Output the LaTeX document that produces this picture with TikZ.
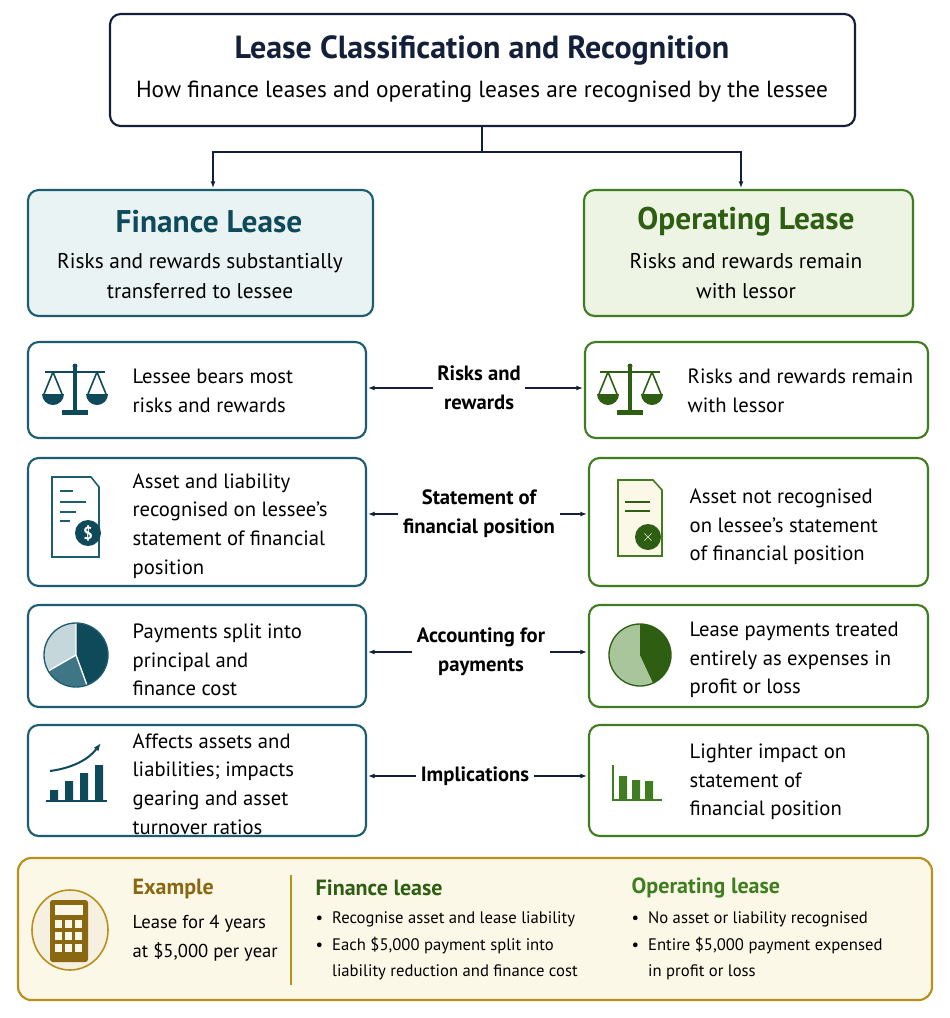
\documentclass[tikz,border=0pt]{standalone}
\usepackage{fontspec}
\setmainfont{PT Sans}
\usepackage{tikz}
\usetikzlibrary{positioning, calc, arrows.meta}
\definecolor{finteal}{HTML}{1C5E70}
\definecolor{darkteal}{HTML}{0F4A5A}
\definecolor{lightteal}{HTML}{EAF3F4}
\definecolor{opgreen}{HTML}{3F7D20}
\definecolor{darkgreen}{HTML}{2E5E12}
\definecolor{lightgreen}{HTML}{EEF4E4}
\definecolor{navy}{HTML}{14203A}
\definecolor{gold}{HTML}{B8901E}
\definecolor{darkgold}{HTML}{8A6812}
\definecolor{lightgold}{HTML}{FCF8E8}
\tikzset{
  box/.style={draw, line width=1.6pt, rounded corners=8pt, fill=white},
  fbox/.style={box, draw=finteal},
  obox/.style={box, draw=opgreen},
  body/.style={anchor=west, align=left, font=\fontsize{15.5}{21.5}\selectfont, text=black},
  mid/.style={align=center, font=\bfseries\fontsize{15.5}{21.5}\selectfont},
  link/.style={-{Latex[length=5pt]}, line width=1pt, navy},
}
\begin{document}
\begin{tikzpicture}[x=0.75pt, y=-0.75pt]
\fill[white] (0,0) rectangle (950,1018);
\useasboundingbox (0,0) rectangle (950,1018);
%% title
\draw[box, draw=navy] (110,14) rectangle (855,126);
\node[font=\bfseries\fontsize{24}{28}\selectfont, navy] (title) at (482,50) {Lease Classification and Recognition};
\node[font=\fontsize{17.5}{21}\selectfont] (sub) at (482,92) {How finance leases and operating leases are recognised by the lessee};
%% headers
\draw[box, draw=finteal, fill=lightteal] (28,190) rectangle (373,316);
\node[font=\bfseries\fontsize{23.5}{27}\selectfont, darkteal] (fin) at (209,222) {Finance Lease};
\node[align=center, font=\fontsize{16}{23}\selectfont] at (200,276) {Risks and rewards substantially\\transferred to lessee};
\draw[box, draw=opgreen, fill=lightgreen] (584,190) rectangle (913,316);
\node[font=\bfseries\fontsize{23.5}{27}\selectfont, darkgreen] (op) at (746,222) {Operating Lease};
\node[align=center, font=\fontsize{16}{23}\selectfont] at (746,276) {Risks and rewards remain\\with lessor};
\coordinate (split) at (482,152);
\draw[link] (482,126) -- (split) -| (213,188);
\draw[link] (split) -| (741,188);
%% rows
\draw[fbox] (28,342) rectangle (366,438);
\draw[fbox] (28,458) rectangle (366,586);
\draw[fbox] (28,605) rectangle (366,707);
\draw[fbox] (28,725) rectangle (366,836);
\draw[obox] (585,342) rectangle (928,438);
\draw[obox] (589,458) rectangle (928,586);
\draw[obox] (589,605) rectangle (928,707);
\draw[obox] (589,725) rectangle (928,836);
\node[body] at (128,391) {Lessee bears most\\risks and rewards};
\node[body] at (128,526) {Asset and liability\\recognised on lessee’s\\statement of financial\\position};
\node[body] at (128,660) {Payments split into\\principal and\\finance cost};
\node[body] at (128,784) {Affects assets and\\liabilities; impacts\\gearing and asset\\turnover ratios};
\node[body] at (683,391) {Risks and rewards remain\\with lessor};
\node[body] at (685,527) {Asset not recognised\\on lessee’s statement\\of financial position};
\node[body] at (685,660) {Lease payments treated\\entirely as expenses in\\profit or loss};
\node[body] at (685,782) {Lighter impact on\\statement of\\financial position};
\node[mid] (risk) at (479,388) {Risks and\\rewards};
\node[mid] (sfp) at (479,514) {Statement of\\financial position};
\node[mid] (acc) at (481,652) {Accounting for\\payments};
\node[mid] (imp) at (475,776) {Implications};
\draw[link] (risk.west) -- (368,388);  \draw[link] (risk.east) -- (583,388);
\draw[link] (sfp.west) -- (368,514);   \draw[link] (sfp.east) -- (587,514);
\draw[link] (acc.west) -- (368,652);   \draw[link] (acc.east) -- (587,652);
\draw[link] (imp.west) -- (368,776);   \draw[link] (imp.east) -- (587,776);
%% scales icons
\foreach \cx/\col in {75/darkteal, 630/darkgreen}{
  \begin{scope}[shift={(\cx,0)}, \col, line width=1.2pt]
    \fill (0,366) circle (2.5);
    \fill (-2,368) rectangle (2,412);
    \fill (-13,410) rectangle (13,415);
    \draw (-30,372) -- (30,372);
    \draw (-22,372) -- (-31,394) (-22,372) -- (-13,394);
    \draw (22,372) -- (13,394) (22,372) -- (31,394);
    \fill (-33,394) -- (-11,394) arc[start angle=0, end angle=180, radius=11] -- cycle;
    \fill (11,394) -- (33,394) arc[start angle=0, end angle=180, radius=11] -- cycle;
  \end{scope}}
%% document icons
\draw[line width=1.2pt, finteal, fill=white] (52,477) -- (91,477) -- (99,487) -- (99,557) -- (52,557) -- cycle;
\draw[line width=1.5pt, finteal] (60,491) -- (73,491) (60,502) -- (86,502) (60,512) -- (76,512) (60,521) -- (70,521);
\fill[darkteal] (88,533) circle (13);
\node[white, font=\bfseries\fontsize{13}{13}\selectfont] at (88,533) {\$};
\draw[line width=1.2pt, opgreen, fill=lightgold] (618,480) -- (653,480) -- (662,490) -- (662,556) -- (618,556) -- cycle;
\draw[line width=1.5pt, darkgreen] (625,502) -- (650,502) (625,511) -- (650,511);
\fill[darkgreen] (648,537) circle (13);
\node[white, font=\bfseries\fontsize{13}{13}\selectfont] at (648,537) {$\times$};
%% pie icons
\begin{scope}[shift={(76,655)}, yscale=-1]
  \fill[finteal!25] (0,0) -- (0,32) arc[start angle=90, end angle=210, radius=32] -- cycle;
  \fill[finteal!85] (0,0) -- (210:32) arc[start angle=210, end angle=290, radius=32] -- cycle;
  \fill[darkteal] (0,0) -- (290:32) arc[start angle=-70, end angle=90, radius=32] -- cycle;
  \draw[white, line width=1pt] (0,32) -- (0,0) -- (210:32) (0,0) -- (290:32);
  \draw[finteal, line width=1pt] (0,0) circle (32);
\end{scope}
\begin{scope}[shift={(640,655)}, yscale=-1]
  \fill[opgreen!45] (0,0) circle (31);
  \fill[darkgreen] (0,0) -- (0,31) arc[start angle=90, end angle=-65, radius=31] -- cycle;
  \draw[darkgreen, line width=1pt] (0,0) circle (31);
\end{scope}
%% bar icons
\fill[darkteal] (50,790) rectangle (58,800) (65,781) rectangle (73,800) (80,773) rectangle (88,800) (95,765) rectangle (103,800);
\draw[darkteal, line width=1.5pt] (46,801) -- (107,801);
\draw[darkteal, line width=1.5pt, -{Latex[length=6pt]}] (50,771) .. controls (72,768) and (88,760) .. (101,743);
\fill[opgreen] (619,776) rectangle (627,799) (632,780) rectangle (640,799) (645,781) rectangle (653,799);
\draw[opgreen, line width=1.5pt] (613,765) -- (613,800) -- (662,800);
%% example
\draw[line width=1.6pt, draw=gold, fill=lightgold, rounded corners=10pt] (18,858) rectangle (932,1000);
\draw[gold, line width=1.2pt, fill=lightgold!60!gold!30] (70,930) ellipse (38 and 40);
\fill[darkgold, rounded corners=2pt] (50,900) rectangle (88,962);
\fill[lightgold] (55,905) rectangle (83,915);
\foreach \i in {0,1,2}{\foreach \j in {0,1,2}{
  \fill[lightgold] (55+\i*10,920+\j*12) rectangle (62+\i*10,928+\j*12);}}
\node[anchor=west, font=\bfseries\fontsize{16.5}{20}\selectfont, darkgold] at (128,889) {Example};
\node[body, font=\fontsize{14}{22}\selectfont] at (128,938) {Lease for 4 years\\at \$5,000 per year};
\draw[gold, line width=1pt] (291,875) -- (291,985);
\node[anchor=west, font=\bfseries\fontsize{16.5}{20}\selectfont, darkgreen] at (311,888) {Finance lease};
\node[anchor=west, font=\bfseries\fontsize{16.5}{20}\selectfont, opgreen] at (627,888) {Operating lease};
\node[anchor=north west, align=left, font=\fontsize{12.5}{20}\selectfont] at (311,907) {•\ \ Recognise asset and lease liability\\•\ \ Each \$5,000 payment split into\\\phantom{•\ \ }liability reduction and finance cost};
\node[anchor=north west, align=left, font=\fontsize{12.5}{20}\selectfont] at (627,907) {•\ \ No asset or liability recognised\\•\ \ Entire \$5,000 payment expensed\\\phantom{•\ \ }in profit or loss};
\end{tikzpicture}
\end{document}
